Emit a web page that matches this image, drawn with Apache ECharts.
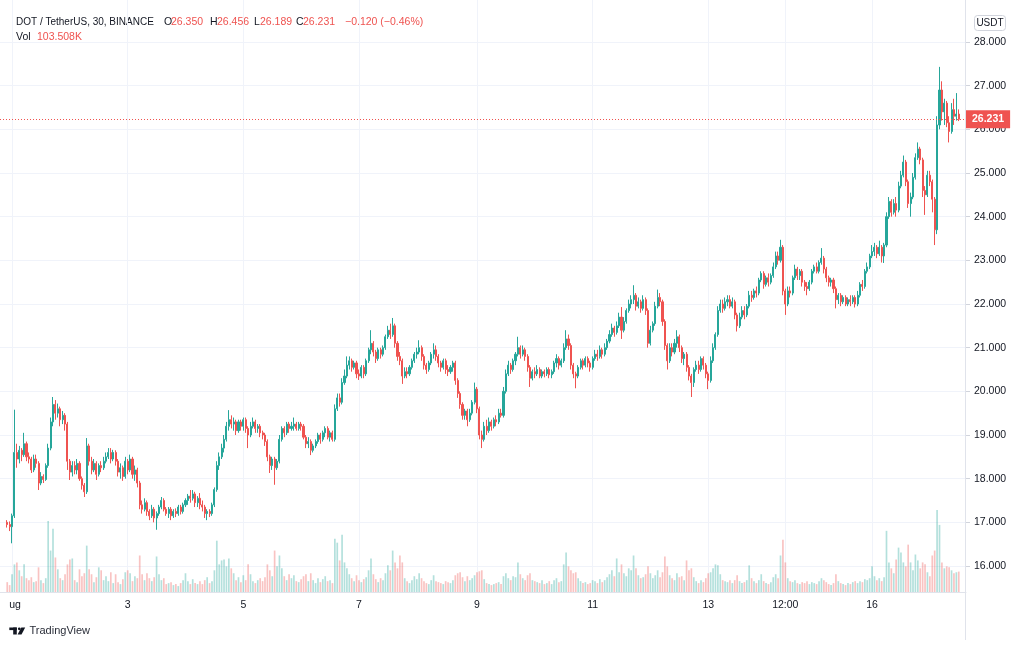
<!DOCTYPE html>
<html><head><meta charset="utf-8">
<script src="https://cdn.jsdelivr.net/npm/echarts@6/dist/echarts.min.js"></script>
<style>html,body{margin:0;padding:0;background:#fff}#c{width:1024px;height:647px}</style>
</head><body><div id="c"></div>
<script>
// Hourly candles [open, close, low, high], DOT/USDT, Jul 31 23:00 .. Aug 17
const ohlc = [
[17,16.95,16.88,17.05],[16.95,16.9,16.8,17.02],[16.9,17.15,16.52,17.2],[17.15,18.6,17.1,19.58],
[18.6,18.45,18.25,18.8],[18.45,18.65,18.35,18.75],[18.65,18.55,18.4,18.7],[18.55,18.8,18.5,19.05],[18.8,18.5,18.4,18.85],
[18.5,18.45,18.35,18.6],[18.45,18.2,18.13,18.5],[18.2,18.45,18.15,18.55],[18.45,18.35,18.25,18.55],[18.35,17.9,17.74,18.4],
[17.9,18.05,17.85,18.15],[18.05,17.98,17.9,18.1],[17.98,18.3,17.95,18.35],[18.3,18.7,18.25,18.8],
[18.7,19.3,18.65,19.4],[19.3,19.7,19.2,19.87],[19.7,19.5,19.35,19.8],[19.5,19.6,19.4,19.72],[19.6,19.35,19.2,19.65],
[19.35,19.45,19.25,19.55],[19.45,19.25,19.1,19.5],
[19.25,18.4,18.2,19.3],[18.4,18.15,17.97,18.45],[18.15,18.3,18.05,18.4],[18.3,18.2,18.1,18.4],[18.2,18.35,18.1,18.45],
[18.35,18,17.95,18.4],[18,17.85,17.75,18.05],[17.85,17.7,17.58,17.9],
[17.7,18.75,17.65,18.93],[18.75,18.4,18.3,18.8],[18.4,18.2,18.1,18.5],[18.2,18.35,18.15,18.45],[18.35,18.1,17.97,18.4],
[18.1,18.3,18.05,18.35],[18.3,18.25,18.15,18.4],[18.25,18.4,18.2,18.5],[18.4,18.5,18.35,18.6],[18.5,18.6,18.45,18.7],
[18.6,18.45,18.35,18.7],[18.45,18.6,18.4,18.66],[18.6,18.4,18.3,18.65],[18.4,18.15,18.05,18.45],[18.15,18.25,18,18.35],
[18.25,18.05,17.95,18.3],[18.05,18.4,18,18.5],[18.4,18.2,18.1,18.45],[18.2,18.45,18.15,18.55],[18.45,18.1,18,18.5],
[18.1,18.2,17.95,18.3],[18.2,17.9,17.8,18.25],
[17.9,17.4,17.3,17.95],[17.4,17.3,17.2,17.5],[17.3,17.45,17.25,17.55],[17.45,17.25,17.15,17.5],[17.25,17.15,17.05,17.3],
[17.15,17.3,17.1,17.4],[17.3,17.1,17,17.35],[17.1,17.2,16.83,17.25],[17.2,17.35,17.15,17.4],[17.35,17.5,17.3,17.58],
[17.5,17.3,17.25,17.55],[17.3,17.2,17.15,17.35],[17.2,17.3,17.1,17.35],[17.3,17.15,17.05,17.35],[17.15,17.25,17.1,17.3],
[17.25,17.2,17.12,17.32],[17.2,17.35,17.15,17.4],[17.35,17.25,17.18,17.4],[17.25,17.4,17.2,17.45],[17.4,17.5,17.35,17.55],
[17.5,17.6,17.4,17.65],[17.6,17.55,17.45,17.74],[17.55,17.65,17.5,17.74],[17.65,17.45,17.35,17.7],[17.45,17.55,17.35,17.6],
[17.55,17.4,17.3,17.67],[17.4,17.35,17.25,17.5],[17.35,17.2,17.1,17.4],[17.2,17.25,17.05,17.3],[17.25,17.2,17.12,17.3],
[17.2,17.4,17.15,17.45],
[17.4,17.75,17.35,17.8],[17.75,18.3,17.7,18.4],[18.3,18.5,18.2,18.6],[18.5,18.7,18.45,18.8],[18.7,18.9,18.6,19],
[18.9,19.2,18.85,19.3],[19.2,19.35,19.1,19.57],[19.35,19.25,19.15,19.45],
[19.25,19.3,19.1,19.4],[19.3,19.1,19,19.35],[19.1,19.3,19.05,19.35],[19.3,19.2,19.1,19.35],[19.2,19.35,19.1,19.4],
[19.35,19.15,19.05,19.4],[19.15,19,18.7,19.2],[19,19.2,18.95,19.3],[19.2,19.3,19.15,19.4],[19.3,19.15,19.05,19.35],
[19.15,19.2,19.05,19.25],[19.2,19.05,18.95,19.25],[19.05,19,18.9,19.1],[19,18.85,18.75,19.05],
[18.85,18.5,18.4,18.9],[18.5,18.3,18.13,18.55],[18.3,18.45,18.2,18.5],[18.45,18.25,17.86,18.5],[18.25,18.4,18.2,18.45],
[18.4,18.9,18.35,19],
[18.9,19.15,18.85,19.2],[19.15,19.05,18.95,19.2],[19.05,19.25,19,19.3],[19.25,19.15,19.05,19.3],[19.15,19.2,19.1,19.3],
[19.2,19.25,19.1,19.4],[19.25,19.15,19.1,19.3],[19.15,19.25,19.1,19.3],[19.25,19.2,19.1,19.3],
[19.2,18.95,18.9,19.25],[18.95,18.8,18.7,19],[18.8,18.85,18.7,18.95],[18.85,18.65,18.54,18.9],[18.65,18.75,18.6,18.8],
[18.75,18.85,18.7,18.9],[18.85,19,18.8,19.05],[19,18.9,18.8,19.05],[18.9,19.05,18.85,19.1],[19.05,19.15,18.95,19.2],
[19.15,18.95,18.9,19.2],[18.95,19.05,18.85,19.1],[19.05,18.9,18.85,19.1],
[18.9,19.6,18.85,19.7],[19.6,19.85,19.55,19.95],[19.85,19.75,19.65,19.95],[19.75,20.2,19.7,20.3],[20.2,20.35,20.15,20.5],
[20.35,20.6,20.3,20.8],
[20.6,20.7,20.5,20.8],[20.7,20.55,20.45,20.75],[20.55,20.65,20.5,20.7],[20.65,20.4,20.3,20.7],[20.4,20.35,20.26,20.5],
[20.35,20.55,20.3,20.6],[20.55,20.4,20.3,20.6],[20.4,20.7,20.35,20.75],[20.7,20.95,20.65,21],[20.95,21.1,20.85,21.4],
[21.1,20.9,20.8,21.15],[20.9,20.75,20.65,20.95],[20.75,20.95,20.7,21],[20.95,20.85,20.75,21],[20.85,21,20.8,21.05],
[21,21.25,20.95,21.3],
[21.25,21.4,21.2,21.5],[21.4,21.3,21.2,21.55],[21.3,21.5,21.25,21.68],[21.5,21.1,21,21.55],[21.1,20.8,20.7,21.15],
[20.8,20.7,20.6,20.9],
[20.7,20.35,20.17,20.75],[20.35,20.45,20.3,20.55],[20.45,20.4,20.3,20.55],[20.4,20.55,20.35,20.6],[20.55,20.7,20.5,20.75],
[20.7,20.85,20.65,20.9],[20.85,20.9,20.75,21],[20.9,21,20.85,21.17],[21,20.8,20.7,21.05],[20.8,20.6,20.5,20.85],
[20.6,20.5,20.4,20.65],[20.5,20.65,20.45,20.7],[20.65,20.85,20.6,20.9],[20.85,20.95,20.75,21.1],[20.95,20.8,20.7,21.05],
[20.8,20.65,20.55,20.85],[20.65,20.55,20.45,20.7],[20.55,20.7,20.5,20.75],[20.7,20.5,20.4,20.75],[20.5,20.45,20.35,20.6],
[20.45,20.55,20.4,20.6],[20.55,20.65,20.45,20.7],[20.65,20.25,20.15,20.7],
[20.25,19.95,19.85,20.3],[19.95,19.7,19.6,20],[19.7,19.45,19.35,19.75],[19.45,19.55,19.35,19.6],[19.55,19.35,19.2,19.6],
[19.35,19.5,19.3,19.6],[19.5,19.75,19.45,19.8],[19.75,20.05,19.7,20.2],[20.05,19.6,19.5,20.1],
[19.6,19,18.9,19.65],[19,18.9,18.7,19.1],[18.9,19.2,18.85,19.3],[19.2,19.1,19,19.35],[19.1,19.3,19.05,19.4],
[19.3,19.2,19.1,19.35],[19.2,19.35,19.15,19.4],[19.35,19.3,19.2,19.45],[19.3,19.5,19.25,19.6],[19.5,19.45,19.4,19.6],
[19.45,20,19.4,20.1],[20,20.4,19.95,20.5],
[20.4,20.6,20.35,20.7],[20.6,20.5,20.4,20.65],[20.5,20.7,20.45,20.75],[20.7,20.85,20.6,20.9],[20.85,21,20.8,21.25],
[21,20.85,20.75,21.05],[20.85,20.95,20.8,21.05],[20.95,20.8,20.7,21],[20.8,20.55,20.45,20.85],[20.55,20.3,20.1,20.6],
[20.3,20.45,20.25,20.5],
[20.45,20.4,20.3,20.55],[20.4,20.5,20.35,20.6],[20.5,20.35,20.3,20.55],[20.35,20.45,20.3,20.5],[20.45,20.4,20.32,20.5],
[20.4,20.5,20.35,20.55],[20.5,20.38,20.3,20.55],[20.38,20.45,20.3,20.5],[20.45,20.65,20.4,20.7],[20.65,20.75,20.55,20.85],
[20.75,20.6,20.5,20.8],[20.6,20.7,20.55,20.75],
[20.7,21,20.65,21.1],[21,21.2,20.95,21.4],[21.2,21.05,20.95,21.3],[21.05,20.6,20.5,21.1],[20.6,20.4,20.3,20.65],
[20.4,20.35,20.07,20.45],
[20.35,20.55,20.3,20.6],[20.55,20.7,20.5,20.75],[20.7,20.6,20.5,20.75],[20.6,20.75,20.55,20.8],[20.75,20.65,20.55,20.8],
[20.65,20.55,20.45,20.7],[20.55,20.75,20.5,20.8],[20.75,20.85,20.7,20.95],[20.85,20.8,20.7,20.95],[20.8,20.95,20.75,21.05],
[20.95,20.85,20.75,21],[20.85,21,20.8,21.1],[21,21.15,20.95,21.2],
[21.15,21.3,21.1,21.4],[21.3,21.45,21.25,21.55],[21.45,21.35,21.25,21.5],[21.35,21.5,21.3,21.6],[21.5,21.7,21.45,21.8],
[21.7,21.4,21.2,21.93],[21.4,21.6,21.35,21.7],[21.6,21.85,21.55,21.9],[21.85,22,21.8,22.1],[22,22.1,21.9,22.2],
[22.1,22.2,22,22.43],[22.2,21.95,21.85,22.25],[21.95,22.05,21.9,22.15],[22.05,21.9,21.8,22.1],[21.9,22.1,21.85,22.2],
[22.1,21.85,21.75,22.15],
[21.85,21.1,21,21.9],[21.1,21.4,21.05,21.5],[21.4,21.55,21.35,21.6],[21.55,21.95,21.5,22.05],[21.95,22.15,21.9,22.33],
[22.15,22.05,21.95,22.25],[22.05,21.6,21.5,22.1],[21.6,21.05,20.95,21.65],[21.05,20.7,20.5,21.1],
[20.7,21,20.65,21.1],[21,20.9,20.8,21.1],[20.9,21.1,20.85,21.2],[21.1,21.25,21,21.4],[21.25,21,20.9,21.3],
[21,20.75,20.65,21.05],[20.75,20.85,20.6,20.9],[20.85,20.55,20.45,20.9],[20.55,20.35,20.25,20.6],[20.35,20.2,19.87,20.4],
[20.2,20.5,20.1,20.55],[20.5,20.6,20.45,20.7],[20.6,20.5,20.4,20.7],[20.5,20.75,20.45,20.8],[20.75,20.6,20.5,20.8],
[20.6,20.4,20.3,20.65],[20.4,20.25,20.05,20.45],
[20.25,20.7,20.2,20.8],[20.7,21,20.65,21.1],[21,21.3,20.95,21.35],[21.3,21.85,21.25,21.95],[21.85,22,21.8,22.1],
[22,21.9,21.8,22.1],[21.9,22.05,21.85,22.15],[22.05,22.1,21.95,22.2],[22.1,21.95,21.9,22.2],[21.95,22.05,21.9,22.15],
[22.05,21.75,21.65,22.1],[21.75,21.5,21.37,21.8],[21.5,21.7,21.45,21.8],[21.7,21.85,21.65,21.95],[21.85,21.75,21.65,21.95],
[21.75,21.95,21.7,22],[21.95,22.2,21.9,22.3],[22.2,22.15,22.05,22.3],[22.15,22.3,22.1,22.35],[22.3,22.25,22.15,22.4],
[22.25,22.55,22.2,22.6],[22.55,22.7,22.5,22.75],[22.7,22.45,22.35,22.75],[22.45,22.6,22.4,22.65],[22.6,22.5,22.4,22.7],
[22.5,22.65,22.45,22.7],
[22.65,22.85,22.6,22.95],[22.85,23.1,22.8,23.2],[23.1,23,22.9,23.2],[23,23.3,22.95,23.47],[23.3,22.3,22.2,23.35],
[22.3,22,21.75,22.35],
[22,22.3,21.95,22.4],[22.3,22.25,22.15,22.4],[22.25,22.6,22.2,22.65],[22.6,22.8,22.55,22.9],[22.8,22.65,22.55,22.85],
[22.65,22.75,22.55,22.8],[22.75,22.5,22.4,22.8],[22.5,22.4,22.3,22.55],[22.4,22.35,22.2,22.5],[22.35,22.5,22.3,22.55],
[22.5,22.75,22.45,22.8],[22.75,22.85,22.7,22.9],[22.85,22.75,22.7,22.95],[22.75,22.95,22.7,23],[22.95,23.05,22.9,23.28],
[23.05,22.8,22.7,23.1],[22.8,22.6,22.5,22.85],[22.6,22.5,22.4,22.65],[22.5,22.55,22.4,22.6],[22.55,22.35,22.25,22.6],
[22.35,22.1,21.9,22.4],[22.1,22.2,22,22.25],[22.2,22.05,21.95,22.25],[22.05,22.15,22,22.2],[22.15,22,21.95,22.2],
[22,22.1,21.95,22.15],[22.1,22.05,21.95,22.2],[22.05,22.15,22,22.2],[22.15,22,21.92,22.2],[22,22.2,21.95,22.3],
[22.2,22.45,22.15,22.5],[22.45,22.4,22.3,22.55],[22.4,22.75,22.35,22.8],[22.75,22.85,22.7,22.95],[22.85,23.1,22.8,23.15],
[23.1,23.2,23.05,23.35],[23.2,23.3,23.1,23.4],[23.3,23.15,23.05,23.35],[23.15,23.3,23.1,23.45],[23.3,23.1,22.95,23.35],
[23.1,23.35,22.94,23.4],[23.35,24,23.3,24.1],[24,24.35,23.95,24.45],
[24.35,24.1,24,24.4],[24.1,24.3,24.05,24.4],[24.3,24.15,24,24.45],[24.15,24.7,24.1,24.8],[24.7,24.95,24.65,25.05],
[24.95,25.25,24.9,25.4],[25.25,24.8,24.7,25.3],[24.8,24.3,24.2,24.85],[24.3,24.45,24,24.55],[24.45,24.9,24.4,25],
[24.9,25.35,24.85,25.45],[25.35,25.55,25.3,25.7],[25.55,25.3,25.2,25.6],[25.3,24.6,24.45,25.35],[24.6,24.5,24.04,24.7],
[24.5,24.95,24.45,25.05],[24.95,24.8,24.7,25.05],[24.8,24.4,24.1,24.85],[24.4,23.7,23.35,24.45],
[23.7,26.1,23.6,26.3],[26.1,26.9,26,27.43],[26.9,26.4,26.2,27.1],[26.4,26.6,26.1,26.7],[26.6,26.15,26.05,26.65],
[26.15,25.95,25.7,26.3],[25.95,26.45,25.9,26.6],[26.45,26.3,26.1,26.7],[26.3,26.35,26.2,26.83],[26.35,26.231,26.189,26.456]
];
// Volume per candle, thousands of DOT
const volume = [
50,35,90,140,
150,110,80,140,70,60,75,50,55,125,60,45,70,360,
210,320,175,115,70,60,90,
140,165,170,60,50,115,80,95,
235,115,90,50,75,125,110,60,80,55,
100,45,90,50,40,65,100,110,95,55,80,70,
185,90,60,95,70,55,75,180,90,60,70,40,45,50,35,40,30,45,60,95,55,40,65,45,40,55,40,60,75,45,55,
110,260,140,160,165,130,170,120,
95,60,75,50,85,60,140,90,55,45,60,70,55,75,
140,110,80,210,130,185,
120,80,60,90,70,85,55,50,65,
80,90,55,95,60,45,70,50,65,80,55,60,45,
270,250,160,290,150,120,
90,70,55,85,60,50,65,75,110,170,90,65,50,70,60,95,
135,110,210,150,120,185,
150,70,55,45,60,80,65,95,70,55,45,40,60,85,55,50,45,40,55,50,45,60,85,
95,100,75,55,80,60,70,85,100,
105,110,65,45,40,35,40,45,50,40,80,95,
70,60,80,75,150,90,70,60,85,95,60,
55,50,45,60,40,45,55,40,60,70,50,55,
140,200,130,110,95,100,
70,55,45,50,40,45,60,55,45,65,50,60,75,
90,110,80,170,100,140,95,80,120,110,185,120,85,70,75,90,
130,95,70,85,110,75,100,180,130,
85,70,60,95,75,80,60,160,110,120,75,55,45,60,50,70,95,
100,120,140,135,90,60,55,50,60,45,
60,85,55,45,50,60,135,70,55,45,60,90,55,45,40,50,
75,90,70,185,265,150,
70,55,50,60,45,40,50,45,55,40,50,45,40,55,70,60,50,40,35,45,
90,55,45,40,35,45,40,50,55,45,
55,50,65,60,70,130,80,60,70,55,75,310,150,
120,95,165,225,200,150,130,240,150,110,190,160,120,150,140,100,80,185,210,
415,340,150,120,130,125,110,95,100,103.508
];
const tickIndex = [5,53,101,149,198,246,294,326,362];
const tickText = ['ug','3','5','7','9','11','13','12:00','16'];
const headerTitle = 'DOT / TetherUS, 30, BINANCE';
const headerValues = ['26.350','26.456','26.189','26.231'];
const headerChange = '\u22120.120 (\u22120.46%)';
const headerVol = '103.508K';

const UP = '#26a69a', DOWN = '#ef5350', GRIDC = '#f0f3fa', TXT = '#131722';
const FONT = 'Liberation Sans, Arial, sans-serif';
const LEAD = 3, TRAIL = 3;
const N = LEAD + ohlc.length + TRAIL;
const cats = Array.from({length: N}, (_, i) => String(i));
const candleData = cats.map((_, i) => {
  const k = i - LEAD;
  return (k >= 0 && k < ohlc.length) ? ohlc[k] : ['-','-','-','-'];
});
const volData = cats.map((_, i) => {
  const k = i - LEAD;
  if (k < 0 || k >= ohlc.length) return '-';
  const up = ohlc[k][1] >= ohlc[k][0];
  return {value: volume[k], itemStyle: {color: up ? 'rgba(38,166,154,0.35)' : 'rgba(239,83,80,0.35)'}};
});
const lastClose = ohlc[ohlc.length - 1][1];

function txt(x, y, s, color, size, weight) {
  return {type: 'text', x: x, y: y, silent: true,
    style: {text: s, fill: color, font: (weight || 'normal') + ' ' + (size || 10.5) + 'px ' + FONT, align: 'left', verticalAlign: 'middle'}};
}

const chart = echarts.init(document.getElementById('c'), null, {renderer: 'canvas'});
chart.setOption({
  animation: false,
  backgroundColor: '#ffffff',
  textStyle: {fontFamily: FONT},
  grid: [
    {left: 0, right: 58, top: 42, height: 524},
    {left: 0, right: 58, top: 0, bottom: 55}
  ],
  xAxis: [
    {type: 'category', gridIndex: 0, data: cats, boundaryGap: false, show: false},
    {type: 'category', gridIndex: 1, data: cats, boundaryGap: false,
      axisLine: {show: true, lineStyle: {color: '#e0e3eb'}},
      axisTick: {show: false},
      axisLabel: {
        interval: (i) => tickIndex.includes(i),
        formatter: (v, i) => {
          const k = tickIndex.indexOf(i);
          if (k < 0) return '';
          return k === 0 ? '{first|' + tickText[k] + '}' : tickText[k];
        },
        rich: {first: {padding: [0, 0, 0, 6], color: TXT, fontSize: 10.5, fontFamily: FONT}},
        color: TXT, fontSize: 10.5, margin: 8, fontFamily: FONT
      },
      splitLine: {show: true, interval: (i) => tickIndex.includes(i), lineStyle: {color: GRIDC, width: 1}}
    }
  ],
  yAxis: [
    {type: 'value', gridIndex: 0, position: 'right', min: 16, max: 28, interval: 1,
      axisLine: {show: false},
      axisTick: {show: true, length: 4, lineStyle: {color: '#d1d4dc'}},
      axisLabel: {color: TXT, fontSize: 10.5, margin: 8, fontFamily: FONT, formatter: (v) => v.toFixed(3)},
      splitLine: {show: true, lineStyle: {color: GRIDC, width: 1}}
    },
    {type: 'value', gridIndex: 1, min: 0, max: 3000, show: false}
  ],
  series: [
    {type: 'bar', name: 'Vol', xAxisIndex: 1, yAxisIndex: 1, data: volData, barWidth: '70%', z: 1},
    {type: 'candlestick', name: 'DOT', xAxisIndex: 0, yAxisIndex: 0, data: candleData, barWidth: '65%', z: 3,
      itemStyle: {color: UP, color0: DOWN, borderColor: UP, borderColor0: DOWN, borderWidth: 1},
      markLine: {
        silent: true, symbol: ['none', 'none'], animation: false,
        lineStyle: {color: DOWN, type: [1, 2], width: 1},
        label: {show: true, position: 'end', distance: 0, formatter: lastClose.toFixed(3), color: '#ffffff',
          backgroundColor: DOWN, padding: [4, 6, 3, 6], fontSize: 10.5, fontWeight: 'bold', fontFamily: FONT},
        data: [{yAxis: lastClose}]
      }
    }
  ],
  graphic: [
    {type: 'line', silent: true, shape: {x1: 965.5, y1: 0, x2: 965.5, y2: 640}, style: {stroke: '#e0e3eb', lineWidth: 1}, z: 10},
    {type: 'rect', silent: true, shape: {x: 974.5, y: 15.5, width: 31, height: 15, r: 3}, style: {fill: '#ffffff', stroke: '#d1d4dc', lineWidth: 1}},
    {type: 'text', silent: true, x: 990, y: 23.5, style: {text: 'USDT', fill: TXT, font: '10px ' + FONT, align: 'center', verticalAlign: 'middle'}},
    txt(16, 22, headerTitle, TXT, 10),
    txt(164, 22, 'O', TXT), txt(171, 22, headerValues[0], DOWN),
    txt(210, 22, 'H', TXT), txt(217, 22, headerValues[1], DOWN),
    txt(254, 22, 'L', TXT), txt(260, 22, headerValues[2], DOWN),
    txt(296, 22, 'C', TXT), txt(303, 22, headerValues[3], DOWN),
    txt(345, 22, headerChange, DOWN),
    txt(16, 37, 'Vol', TXT), txt(37, 37, headerVol, DOWN),
    {type: 'rect', silent: true, shape: {x: 9.3, y: 627.5, width: 7.5, height: 2.6}, style: {fill: TXT}},
    {type: 'rect', silent: true, shape: {x: 13.2, y: 627.5, width: 3.6, height: 7}, style: {fill: TXT}},
    {type: 'circle', silent: true, shape: {cx: 19.3, cy: 628.8, r: 1.4}, style: {fill: TXT}},
    {type: 'polygon', silent: true, shape: {points: [[21.3, 627.5], [25.2, 627.5], [21.5, 634.5], [17.6, 634.5]]}, style: {fill: TXT}},
    txt(29.5, 631, 'TradingView', '#2a2e39', 11)
  ]
});
</script>
</body></html>
